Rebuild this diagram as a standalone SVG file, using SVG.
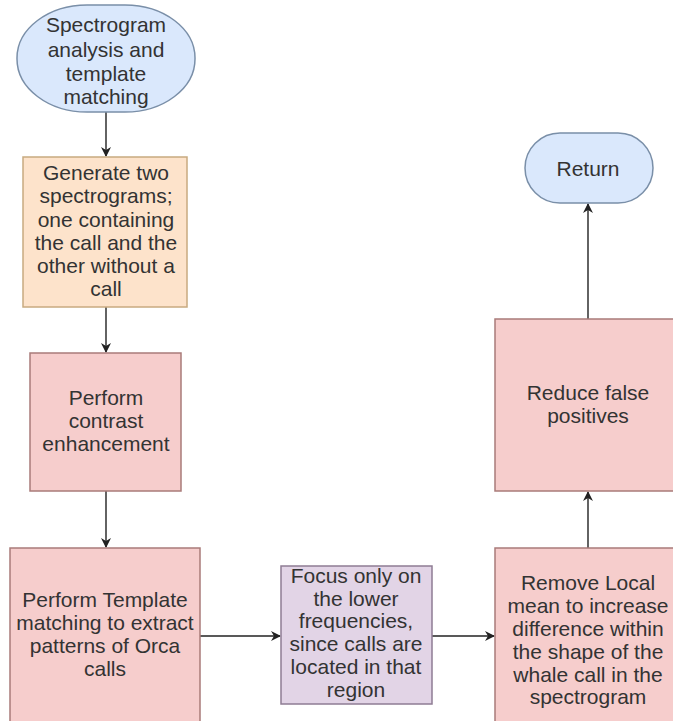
<svg xmlns="http://www.w3.org/2000/svg" width="673" height="721" viewBox="0 0 673 721">
<style>
text{font-family:"Liberation Sans",Arial,sans-serif;font-size:21px;fill:#333;text-anchor:middle}
.blue{fill:#dae8fc;stroke:#7a8fa8;stroke-width:1.5}
.orange{fill:#fde3cb;stroke:#c8aa80;stroke-width:1.5}
.pink{fill:#f6cdcc;stroke:#a97b79;stroke-width:1.5}
.purple{fill:#e2d4e6;stroke:#8e7c94;stroke-width:1.5}
.edge{stroke:#222;stroke-width:1.4;fill:none;marker-end:url(#ah)}
</style>
<defs>
<marker id="ah" viewBox="0 0 10 10" refX="9" refY="5" markerWidth="10" markerHeight="10" markerUnits="userSpaceOnUse" orient="auto">
<path d="M0,0 L10,5 L0,10 L3,5 Z" fill="#222"/>
</marker>
</defs>
<rect width="673" height="721" fill="#fff"/>
<g id="connectors">
<line class="edge" x1="106" y1="112" x2="106" y2="156"/>
<line class="edge" x1="106" y1="307" x2="106" y2="352"/>
<line class="edge" x1="106" y1="491" x2="106" y2="547"/>
<line class="edge" x1="200" y1="636" x2="280" y2="636"/>
<line class="edge" x1="432" y1="636" x2="494" y2="636"/>
<line class="edge" x1="588" y1="548" x2="588" y2="492"/>
<line class="edge" x1="588" y1="319" x2="588" y2="204"/>
</g>
<g id="start">
<rect class="blue" x="17" y="5" width="178" height="107" rx="70" ry="53"/>
<text x="106" y="32">Spectrogram</text>
<text x="106" y="57">analysis and</text>
<text x="106" y="81">template</text>
<text x="106" y="104">matching</text>
</g>
<g id="generate">
<rect class="orange" x="23" y="157" width="164" height="150"/>
<text x="106" y="180">Generate two</text>
<text x="106" y="203">spectrograms;</text>
<text x="106" y="227">one containing</text>
<text x="106" y="250">the call and the</text>
<text x="106" y="273">other without a</text>
<text x="106" y="296">call</text>
</g>
<g id="contrast">
<rect class="pink" x="30" y="353" width="151" height="138"/>
<text x="106" y="405">Perform</text>
<text x="106" y="428">contrast</text>
<text x="106" y="451">enhancement</text>
</g>
<g id="template">
<rect class="pink" x="10" y="548" width="190" height="180"/>
<text x="105" y="607">Perform Template</text>
<text x="105" y="630">matching to extract</text>
<text x="105" y="653">patterns of Orca</text>
<text x="105" y="676">calls</text>
</g>
<g id="focus">
<rect class="purple" x="281" y="566" width="151" height="138"/>
<text x="356" y="583">Focus only on</text>
<text x="356" y="606">the lower</text>
<text x="356" y="628">frequencies,</text>
<text x="356" y="651">since calls are</text>
<text x="356" y="674">located in that</text>
<text x="356" y="697">region</text>
</g>
<g id="removemean">
<rect class="pink" x="495" y="548" width="190" height="180"/>
<text x="588" y="590">Remove Local</text>
<text x="588" y="613">mean to increase</text>
<text x="588" y="636">difference within</text>
<text x="588" y="659">the shape of the</text>
<text x="588" y="682">whale call in the</text>
<text x="588" y="704">spectrogram</text>
</g>
<g id="reduce">
<rect class="pink" x="495" y="319" width="190" height="172"/>
<text x="588" y="400">Reduce false</text>
<text x="588" y="423">positives</text>
</g>
<g id="return">
<rect class="blue" x="525" y="133" width="128" height="70" rx="35" ry="35"/>
<text x="588" y="176">Return</text>
</g>
</svg>
